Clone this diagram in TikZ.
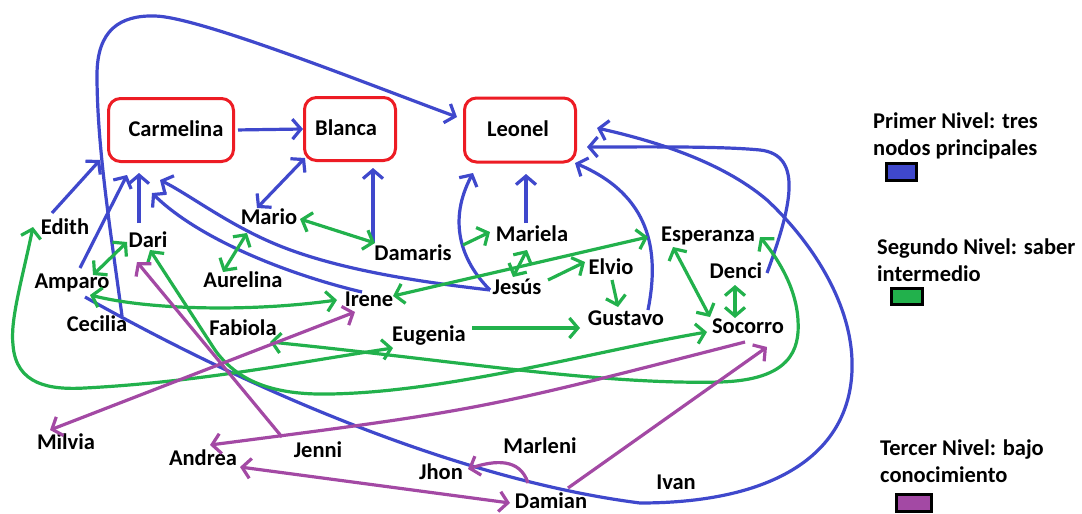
\documentclass[tikz,border=0pt]{standalone}
\usepackage{fontspec}
\setmainfont{Carlito}
\usetikzlibrary{arrows.meta,calc}
\definecolor{pblue}{HTML}{3F48CC}
\definecolor{pgreen}{HTML}{22B14C}
\definecolor{ppurple}{HTML}{A349A4}
\definecolor{pred}{HTML}{ED1C24}
\begin{document}
\begin{tikzpicture}[x=1pt,y=-1pt,
  >={Straight Barb[length=8.5pt,width=20pt]},
  lbl/.style={font=\fontsize{22.5}{26}\selectfont\bfseries, inner sep=0pt, text height=12pt, text depth=0pt},
  leg/.style={font=\fontsize{22.5}{27}\selectfont\bfseries, inner sep=0pt, align=left, anchor=north west},
  topbox/.style={lbl, draw=pred, line width=3pt, rounded corners=12pt},
  swatch/.style={draw=black, line width=3pt, inner sep=0pt},
  bl/.style={draw=pblue, line width=3.2pt},
  gr/.style={draw=pgreen, line width=3.2pt},
  pu/.style={draw=ppurple, line width=3.2pt}]
\useasboundingbox (0,0) rectangle (1082,514);
\fill[white] (0,0) rectangle (1082,514);

% main nodes
\node[topbox, minimum width=125pt, minimum height=63pt] (carm) at (171,130) {\hspace*{10pt}Carmelina};
\node[topbox, minimum width=91pt, minimum height=63pt] (blanca) at (350,129) {Blanca\hspace*{8pt}};
\node[topbox, minimum width=111pt, minimum height=64pt] (leonel) at (520,130) {Leonel\hspace*{4pt}};

% names
\node[lbl] (edith) at (65,228) {Edith};
\node[lbl] (dari) at (148,241) {Dari};
\node[lbl] (amparo) at (72,282) {Amparo};
\node[lbl] (cecilia) at (97,325) {Cecilia};
\node[lbl] (mario) at (269,218) {Mario};
\node[lbl] (damaris) at (413,254) {Damaris};
\node[lbl] (aurelina) at (243,281) {Aurelina};
\node[lbl] (irene) at (369,300) {Irene};
\node[lbl] (fabiola) at (243,329) {Fabiola};
\node[lbl] (eugenia) at (429,335) {Eugenia};
\node[lbl] (milvia) at (66,443) {Milvia};
\node[lbl] (andrea) at (203,459) {Andrea};
\node[lbl] (jenni) at (318,451) {Jenni};
\node[lbl] (mariela) at (532,235) {Mariela};
\node[lbl] (jesus) at (517,288) {Jesús};
\node[lbl] (elvio) at (611,268) {Elvio};
\node[lbl] (gustavo) at (626,319) {Gustavo};
\node[lbl] (esperanza) at (708,235) {Esperanza};
\node[lbl] (denci) at (736,272) {Denci};
\node[lbl] (socorro) at (748,327) {Socorro};
\node[lbl] (marleni) at (540,447) {Marleni};
\node[lbl] (jhon) at (441,473) {Jhon};
\node[lbl] (damian) at (551,502) {Damian};
\node[lbl] (ivan) at (676,483) {Ivan};

% legend
\node[leg] (leg1) at (873,113) {Primer Nivel: tres\\nodos principales};
\node[swatch, fill=pblue, minimum width=30pt, minimum height=17pt] (sw1) at (901.5,172) {};
\node[leg] (leg2) at (877,239) {Segundo Nivel: saber\\intermedio};
\node[swatch, fill=pgreen, minimum width=31pt, minimum height=16pt] (sw2) at (907,296.5) {};
\node[leg] (leg3) at (880,440) {Tercer Nivel: bajo\\conocimiento};
\node[swatch, fill=ppurple, minimum width=35pt, minimum height=17pt] (sw3) at (914,503) {};

% blue connectors
\draw[bl,->,shorten <=3pt] (carm.east) -- (blanca.west);
\draw[bl,<->] ($(mario)+(-12,-10)$) -- ($(blanca)+(-45,29)$);
\draw[bl,->] ($(damaris)+(-40,-11)$) -- ($(blanca)+(23,39)$);
\draw[bl,->] ($(mariela)+(-6,-12)$) -- ($(leonel)+(6,44)$);
\draw[bl,->] ($(edith)+(-13,-15)$) -- ($(carm)+(-71,30)$);
\draw[bl,->] ($(cecilia)+(25,-9)$) .. controls (112,240) and (97,150) .. (97,75)
   .. controls (97,30) and (120,15) .. (155,16)
   .. controls (200,17) and (370,85) .. ($(leonel)+(-63,-13)$);
\draw[bl,->] ($(amparo)+(8,-14)$) -- ($(carm)+(-44,45)$);
\draw[bl,->] ($(dari)+(-9,-18)$) -- ($(carm)+(-32,43)$);
\draw[bl,->] ($(irene)+(-7,-8)$) .. controls (290,275) and (200,240) .. ($(carm)+(-19,63)$);
\draw[bl,->] ($(jesus)+(-27,2)$) .. controls (420,282) and (340,270) .. (280,246)
   .. controls (230,226) and (190,195) .. ($(carm)+(-11,50)$);
\draw[bl,->] ($(jesus)+(-27,2)$) .. controls (460,260) and (448,220) .. ($(leonel)+(-47,43)$);
\draw[bl,->] ($(gustavo)+(22,-9)$) .. controls (660,250) and (650,195) .. ($(leonel)+(55,33)$);
\draw[bl,->] ($(denci)+(31,1)$) .. controls (790,210) and (805,155) .. (760,150)
   .. controls (720,146) and (640,147) .. ($(leonel)+(67,17)$);
\draw[bl,->] ($(amparo)+(13,15)$) .. controls (250,390) and (460,480) .. (640,503)
   .. controls (780,503) and (855,450) .. (852,360)
   .. controls (850,300) and (810,240) .. (767,200)
   .. controls (720,160) and (650,140) .. ($(leonel)+(77,-2)$);

% green connectors
\draw[gr,<->] ($(edith)+(-32,-1)$) .. controls (22,280) and (10,320) .. (13,345)
   .. controls (16,385) and (50,390) .. (85,388)
   .. controls (200,382) and (300,362) .. ($(eugenia)+(-36,13)$);
\draw[gr,<->] ($(fabiola)+(27,13)$) .. controls (450,360) and (600,385) .. (720,382)
   .. controls (790,380) and (800,350) .. (798,320)
   .. controls (796,285) and (775,255) .. ($(esperanza)+(52,2)$);
\draw[gr,<->] ($(dari)+(2,9)$) -- (215,350) .. controls (240,385) and (280,395) .. (330,394)
   .. controls (450,392) and (600,350) .. ($(socorro)+(-41,5)$);
\draw[gr,<->] ($(amparo)+(18,13)$) .. controls (150,310) and (250,312) .. ($(irene)+(-32,0)$);
\draw[gr,<->] ($(amparo)+(21,-7)$) -- ($(dari)+(-21,1)$);
\draw[gr,<->] ($(mario)+(31,1)$) -- ($(damaris)+(-38,-11)$);
\draw[gr,<->] ($(mario)+(-22,15)$) -- ($(aurelina)+(-20,-9)$);
\draw[gr,->] ($(damaris)+(50,-9)$) -- ($(mariela)+(-42,-3)$);
\draw[gr,<->] ($(mariela)+(-5,15)$) -- ($(jesus)+(-4,-11)$);
\draw[gr,<->] ($(irene)+(24,-4)$) -- ($(esperanza)+(-60,2)$);
\draw[gr,->] ($(jesus)+(31,-8)$) -- ($(elvio)+(-26,-6)$);
\draw[gr,->] ($(elvio)+(1,12)$) -- ($(gustavo)+(-8,-12)$);
\draw[gr,->] ($(eugenia)+(43,-7)$) -- ($(gustavo)+(-46,9)$);
\draw[gr,<->] ($(esperanza)+(-35,12)$) -- ($(socorro)+(-38,-10)$);
\draw[gr,<->] ($(denci)+(-1,13)$) -- ($(socorro)+(-13,-9)$);

% purple connectors
\draw[pu,<->] ($(milvia)+(-16,-13)$) -- ($(irene)+(-14,12)$);
\draw[pu,->] ($(jenni)+(-36,-14)$) -- ($(dari)+(-11,21)$);
\draw[pu,->] ($(socorro)+(-3,15)$) .. controls (480,410) .. ($(andrea)+(7,-14)$);
\draw[pu,<->] ($(damian)+(-41,1)$) -- ($(andrea)+(37,8)$);
\draw[pu,->] ($(damian)+(17,-14)$) -- ($(socorro)+(19,20)$);
\draw[pu,->] ($(damian)+(-23,-19)$) .. controls (520,458) and (495,460) .. ($(jhon)+(27,-4)$);
\end{tikzpicture}
\end{document}
